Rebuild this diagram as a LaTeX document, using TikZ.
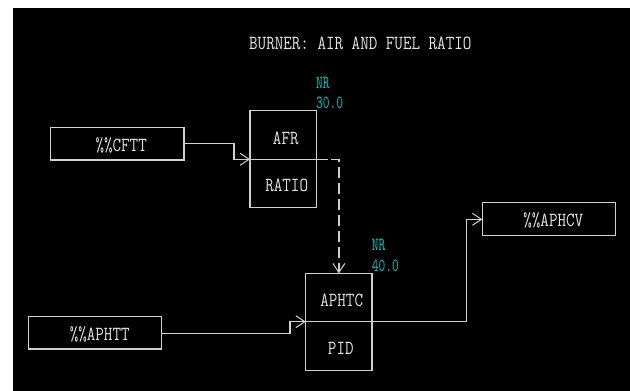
\documentclass[tikz,border=0pt]{standalone}
\usepackage{fontspec}
\usetikzlibrary{arrows.meta}
\newfontfamily\scrfont[FakeStretch=0.83]{Latin Modern Mono}
\newfontfamily\nrfont[FakeStretch=0.71]{Latin Modern Mono}
\definecolor{linegray}{HTML}{D0D0D0}
\definecolor{txtgray}{HTML}{E4E4E4}
\definecolor{nrcyan}{HTML}{00C8C8}
\tikzset{
  blk/.style={draw=linegray, line width=1.2pt},
  lbl/.style={text=txtgray, font=\scrfont\fontsize{20}{20}\selectfont, inner sep=0pt, text depth=0pt},
  nrl/.style={text=nrcyan, font=\nrfont\fontsize{18.5}{18.5}\selectfont, inner sep=0pt, text depth=0pt, anchor=west},
  conn/.style={draw=linegray, line width=1.2pt, -{Straight Barb[length=9pt,width=12pt,line width=1pt]}},
  dconn/.style={conn, dash pattern=on 11pt off 5pt}
}
\begin{document}
\begin{tikzpicture}[x=1pt,y=-1pt]
\useasboundingbox (0,0) rectangle (630,391);
\fill[white] (0,0) rectangle (630,391);
\fill[black] (13,8) rectangle (630,391);
% title
\node[lbl] (title) at (360.3,43.3) {BURNER: AIR AND FUEL RATIO};
% boxes
\draw[blk] (50.7,127.3) rectangle (184,160);
\coordinate (cftt-e) at (184,143.3);
\node[lbl] (cftt) at (121.2,145) {\%\%CFTT};

\draw[blk] (250,110.7) rectangle (316.3,207.7);
\coordinate (afr-w) at (250,159.3);
\coordinate (afr-e) at (316.3,159.3);
\draw[blk] (afr-w) -- (afr-e);
\node[lbl] (afr) at (285.8,138.3) {AFR};
\node[lbl] (ratio) at (286.7,185.7) {RATIO};
\node[nrl] (nr1) at (316,82.7) {NR};
\node[nrl] (nr1v) at (316,102.7) {30.0};

\draw[blk] (305.7,273.3) rectangle (372,370.7);
\coordinate (aphtc-w) at (305.7,321.7);
\coordinate (aphtc-e) at (372,321.7);
\coordinate (aphtc-n) at (338.9,273.3);
\draw[blk] (aphtc-w) -- (aphtc-e);
\node[lbl] (aphtc) at (341.7,300) {APHTC};
\node[lbl] (pid) at (340.8,348.3) {PID};
\node[nrl] (nr2) at (371.7,245) {NR};
\node[nrl] (nr2v) at (371.7,265.7) {40.0};

\draw[blk] (28.3,316.7) rectangle (161.7,349);
\coordinate (aphtt-e) at (161.7,333.3);
\node[lbl] (aphtt) at (99.7,333.3) {\%\%APHTT};

\draw[blk] (482.3,202.7) rectangle (615.7,235.7);
\coordinate (aphcv-w) at (482.3,219.3);
\node[lbl] (aphcv) at (553.3,219.3) {\%\%APHCV};

% connectors
\draw[conn] (cftt-e) -- (234,143.3) -- (234,159.3) -- (afr-w);
\draw[blk] (afr-e) -- (328,159.3);
\draw[dconn] (330.5,159.3) -- (338.9,159.3) -- (aphtc-n);
\draw[conn] (aphtt-e) -- (290,333.3) -- (290,321.7) -- (aphtc-w);
\draw[conn] (aphtc-e) -- (466.7,321.7) -- (466.7,219.3) -- (aphcv-w);
\end{tikzpicture}
\end{document}
